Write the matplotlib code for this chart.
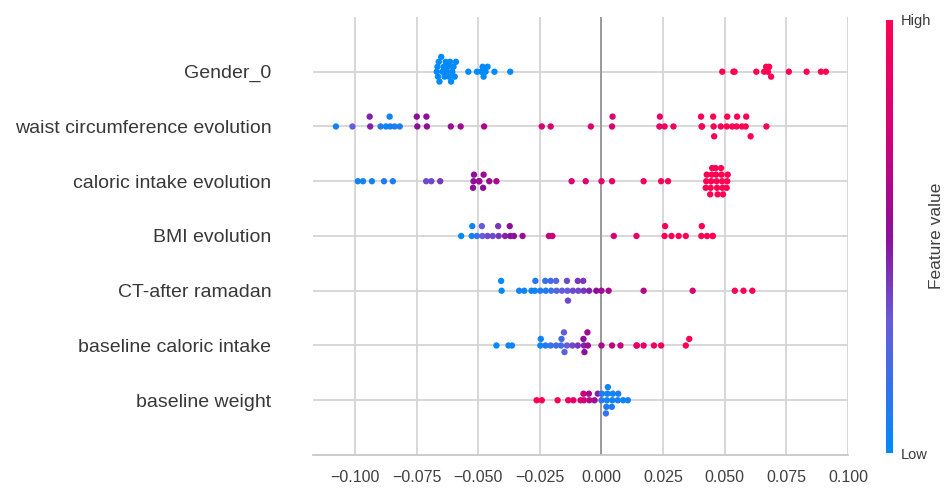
import matplotlib
matplotlib.use("Agg")
import matplotlib.pyplot as plt
import numpy as np
from matplotlib.colors import LinearSegmentedColormap
from matplotlib.cm import ScalarMappable
from matplotlib.colors import Normalize

plt.rcParams["font.family"] = ["Liberation Sans", "DejaVu Sans"]

# features, top to bottom
features = [
    "Gender_0",
    "waist circumference evolution",
    "caloric intake evolution",
    "BMI evolution",
    "CT-after ramadan",
    "baseline caloric intake",
    "baseline weight",
]

# SHAP values and (normalised) feature values
gender_shap = [-0.0668, -0.0665, -0.0663, -0.0660, -0.0657, -0.0650, -0.0645, -0.0640,
               -0.0636, -0.0632, -0.0627, -0.0622, -0.0618, -0.0614, -0.0610, -0.0605,
               -0.0600, -0.0595, -0.0590, -0.0540, -0.0505, -0.0488, -0.0482, -0.0478,
               -0.0470, -0.0462, -0.0434, -0.0370,
               0.0490, 0.0535, 0.0540, 0.0628, 0.0660, 0.0668, 0.0675, 0.0680,
               0.0688, 0.0760, 0.0832, 0.0890, 0.0910]
gender_val = [0.0] * 28 + [1.0] * 13

waist_shap = [-0.1077, -0.1010, -0.0938, -0.0940, -0.0896, -0.0874, -0.0857, -0.0859,
              -0.0839, -0.0818, -0.0747, -0.0749, -0.0708, -0.0710, -0.0611, -0.0571,
              -0.0476, -0.0242, -0.0206, -0.0043, 0.0043, 0.0045, 0.0235, 0.0237,
              0.0256, 0.0292, 0.0406, 0.0404, 0.0408, 0.0455, 0.0453, 0.0457,
              0.0484, 0.0508, 0.0510, 0.0530, 0.0548, 0.0550, 0.0570, 0.0585,
              0.0587, 0.0605, 0.0669]
waist_val = [0.05, 0.30, 0.45, 0.45, 0.10, 0.05, 0.05, 0.05,
             0.10, 0.10, 0.50, 0.50, 0.50, 0.50, 0.55, 0.55,
             0.60, 0.75, 0.75, 0.80, 0.80, 0.80, 0.85, 0.85,
             0.90, 0.90, 0.95, 0.95, 0.95, 1.00, 1.00, 1.00,
             0.95, 1.00, 1.00, 1.00, 1.00, 1.00, 1.00, 1.00,
             1.00, 1.00, 1.00]

caloric_shap = [-0.0988, -0.0967, -0.0931, -0.0882, -0.0846, -0.0711, -0.0690, -0.0654,
                -0.0519, -0.0517, -0.0521, -0.0497, -0.0495, -0.0478, -0.0480, -0.0455,
                -0.0426, -0.0121, -0.0064, 0.0000, 0.0043, 0.0171, 0.0242, 0.0270,
                0.0425, 0.0427, 0.0423, 0.0445, 0.0447, 0.0443, 0.0449, 0.0441,
                0.0467, 0.0465, 0.0469, 0.0463, 0.0471, 0.0489, 0.0487, 0.0491,
                0.0485, 0.0493, 0.0510, 0.0512, 0.0508]
caloric_val = [0.05, 0.05, 0.05, 0.10, 0.10, 0.35, 0.35, 0.40,
               0.50, 0.50, 0.50, 0.55, 0.55, 0.55, 0.50, 0.55,
               0.60, 0.80, 0.80, 0.85, 0.85, 0.90, 0.95, 0.95,
               1.00, 1.00, 1.00, 1.00, 1.00, 1.00, 1.00, 1.00,
               1.00, 1.00, 1.00, 1.00, 1.00, 1.00, 1.00, 1.00,
               1.00, 1.00, 1.00, 1.00, 1.00]

bmi_shap = [-0.0569, -0.0526, -0.0524, -0.0505, -0.0483, -0.0485, -0.0462, -0.0441,
            -0.0417, -0.0419, -0.0391, -0.0370, -0.0372, -0.0355, -0.0320, -0.0213,
            -0.0199, 0.0050, 0.0142, 0.0256, 0.0258, 0.0284, 0.0313, 0.0342,
            0.0405, 0.0407, 0.0428, 0.0450, 0.0452]
bmi_val = [0.00, 0.05, 0.05, 0.15, 0.30, 0.30, 0.35, 0.35,
           0.40, 0.40, 0.45, 0.50, 0.50, 0.50, 0.55, 0.70,
           0.70, 0.80, 0.85, 0.95, 0.95, 0.95, 1.00, 1.00,
           1.00, 1.00, 1.00, 1.00, 1.00]

ct_shap = [-0.0405, -0.0407, -0.0334, -0.0313, -0.0284, -0.0270, -0.0268, -0.0248,
           -0.0226, -0.0228, -0.0204, -0.0206, -0.0182, -0.0184, -0.0160, -0.0138,
           -0.0140, -0.0136, -0.0116, -0.0094, -0.0096, -0.0072, -0.0074, -0.0050,
           -0.0021, 0.0000, 0.0029, 0.0171, 0.0370, 0.0541, 0.0576, 0.0612]
ct_val = [0.00, 0.00, 0.05, 0.05, 0.05, 0.05, 0.10, 0.10,
          0.10, 0.15, 0.15, 0.20, 0.25, 0.25, 0.30, 0.30,
          0.35, 0.35, 0.35, 0.35, 0.40, 0.40, 0.40, 0.45,
          0.50, 0.55, 0.60, 0.65, 0.75, 1.00, 1.00, 0.95]

base_cal_shap = [-0.0426, -0.0377, -0.0363, -0.0248, -0.0246, -0.0227, -0.0206, -0.0184,
                 -0.0164, -0.0162, -0.0150, -0.0152, -0.0140, -0.0118, -0.0096, -0.0071,
                 -0.0073, -0.0069, -0.0057, -0.0055, 0.0000, 0.0043, 0.0077, 0.0142,
                 0.0144, 0.0171, 0.0213, 0.0242, 0.0342, 0.0356]
base_cal_val = [0.00, 0.05, 0.05, 0.05, 0.05, 0.10, 0.15, 0.20,
                0.20, 0.20, 0.25, 0.30, 0.30, 0.35, 0.40, 0.45,
                0.50, 0.50, 0.55, 0.55, 0.60, 0.65, 0.70, 0.85,
                0.85, 0.85, 0.90, 0.95, 1.00, 1.00]

weight_shap = [-0.0263, -0.0242, -0.0178, -0.0135, -0.0114, -0.0085, -0.0071, -0.0073,
               -0.0049, -0.0051, -0.0028, -0.0015, 0.0000, 0.0002, 0.0022, 0.0024,
               0.0020, 0.0026, 0.0018, 0.0044, 0.0046, 0.0042, 0.0066, 0.0068,
               0.0088, 0.0107]
weight_val = [1.00, 1.00, 0.95, 0.95, 0.85, 0.80, 0.75, 0.70,
              0.65, 0.60, 0.55, 0.45, 0.15, 0.10, 0.05, 0.05,
              0.10, 0.05, 0.15, 0.05, 0.05, 0.10, 0.05, 0.10,
              0.05, 0.05]

shap_rows = [gender_shap, waist_shap, caloric_shap, bmi_shap, ct_shap,
             base_cal_shap, weight_shap]
val_rows = [gender_val, waist_val, caloric_val, bmi_val, ct_val,
            base_cal_val, weight_val]

xticks = [-0.100, -0.075, -0.050, -0.025, 0.000, 0.025, 0.050, 0.075, 0.100]

cmap = LinearSegmentedColormap.from_list(
    "shap_red_blue",
    [(0.0, (0.0, 0.54, 0.98)),
     (0.3, (0.40, 0.36, 0.86)),
     (0.5, (0.55, 0.06, 0.60)),
     (0.75, (0.84, 0.0, 0.46)),
     (1.0, (1.0, 0.0, 0.32))],
)


def swarm_offsets(values, bin_width=0.0022, row_height=0.4):
    # same layering idea as shap's beeswarm, with a fixed bin width
    values = np.asarray(values)
    quant = np.round(values / bin_width)
    order = np.argsort(quant, kind="stable")
    ys = np.zeros(len(values))
    layer = 0
    last_bin = None
    for ind in order:
        if quant[ind] != last_bin:
            layer = 0
        ys[ind] = np.ceil(layer / 2) * ((layer % 2) * 2 - 1)
        layer += 1
        last_bin = quant[ind]
    ys *= 0.9 * (row_height / np.max(ys + 1))
    return ys


fig = plt.figure(figsize=(9.49, 4.90), dpi=100)
ax = fig.add_axes([0.3298, 0.0714, 0.5638, 0.894])

n = len(features)
for i, (sv, fv) in enumerate(zip(shap_rows, val_rows)):
    pos = n - 1 - i
    ax.axhline(pos, color="#d4d4d4", lw=1.3, zorder=0)
    ax.scatter(sv, pos + swarm_offsets(sv), c=fv, cmap=cmap, vmin=0, vmax=1,
               s=21, linewidths=0, zorder=3)

for xt in xticks:
    ax.axvline(xt, color="#d4d4d4", lw=1.3, zorder=0)
ax.axvline(0, color="#9a9a9a", lw=1.4, zorder=1)

ax.set_xlim(-0.117, 0.1)
ax.set_ylim(-1, n)
ax.set_xticks(xticks)
ax.set_xticklabels([f"{t:.3f}".replace("-", "\u2212") for t in xticks])
ax.set_yticks(range(n))
ax.set_yticklabels(features[::-1])
ax.tick_params(axis="y", length=0, pad=30, labelsize=14, labelcolor="#383838")
ax.tick_params(axis="x", length=0, pad=11, labelsize=11.5, labelcolor="#404040")
for side in ["top", "right", "left"]:
    ax.spines[side].set_visible(False)
ax.spines["bottom"].set_color("#c8c8c8")
ax.spines["bottom"].set_linewidth(1.3)

cax = fig.add_axes([0.9340, 0.0755, 0.0066, 0.8837])
sm = ScalarMappable(norm=Normalize(0, 1), cmap=cmap)
cb = fig.colorbar(sm, cax=cax, ticks=[0, 1])
cb.set_ticklabels(["Low", "High"])
cb.outline.set_visible(False)
cax.tick_params(length=0, labelsize=10.5, labelcolor="#383838", pad=6)
fig.text(0.987, 0.518, "Feature value", rotation=90, ha="center", va="center",
         fontsize=12.5, color="#404040")

fig.savefig("out.png", dpi=100, facecolor="white")
